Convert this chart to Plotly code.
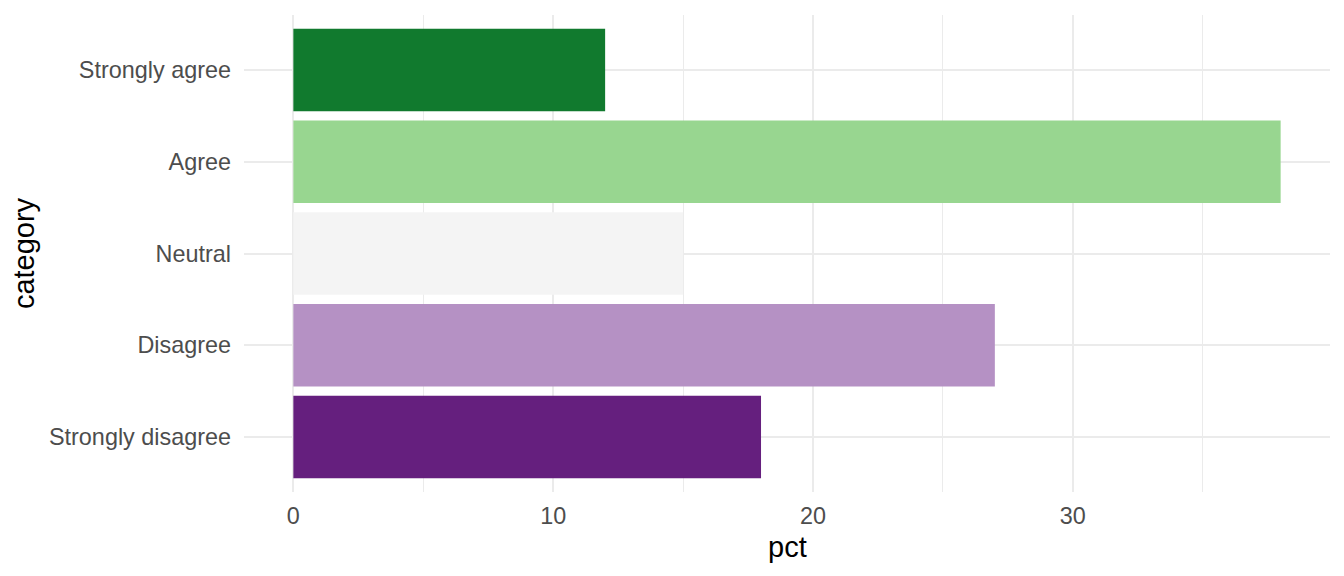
import plotly.graph_objects as go

# Data
categories = ["Strongly disagree", "Disagree", "Neutral", "Agree", "Strongly agree"]
pct = [18, 27, 15, 38, 12]
bar_colors = ["#651f7e", "#b591c4", "#f4f4f4", "#98d690", "#117a2e"]

fig = go.Figure()
fig.add_trace(go.Bar(
    x=pct,
    y=categories,
    orientation="h",
    width=0.9,
    marker=dict(color=bar_colors, line=dict(width=0)),
    showlegend=False,
))

# page body has an 8px margin, so margins are shifted to compensate
fig.update_layout(
    width=1344,
    height=576,
    plot_bgcolor="white",
    paper_bgcolor="white",
    margin=dict(l=236, r=22, t=7, b=92),
    font=dict(family="Liberation Sans, Arial, sans-serif"),
    bargap=0.1,
)

fig.update_xaxes(
    range=[-1.9, 39.9],
    dtick=10,
    tick0=0,
    showgrid=True,
    gridcolor="#ebebeb",
    gridwidth=2.4,
    minor=dict(dtick=5, tick0=0, showgrid=True, gridcolor="#ebebeb", gridwidth=1.2),
    zeroline=False,
    showline=False,
    ticks="",
    tickfont=dict(size=23.4, color="#4d4d4d"),
    ticklabelstandoff=8,
    automargin=False,
)

fig.update_yaxes(
    type="category",
    categoryorder="array",
    categoryarray=categories,
    range=[-0.6, 4.6],
    showgrid=True,
    gridcolor="#ebebeb",
    gridwidth=2.4,
    zeroline=False,
    showline=False,
    ticks="",
    tickfont=dict(size=23.4, color="#4d4d4d"),
    ticklabelstandoff=12,
    automargin=False,
    title=dict(text="category", font=dict(size=29, color="black")),
)

# x axis title placed by hand
fig.add_annotation(
    text="pct",
    xref="paper", yref="paper",
    x=0.5, y=0,
    xanchor="center", yanchor="middle",
    yshift=-55,
    showarrow=False,
    font=dict(size=29, color="black"),
)

fig.write_html("out.html")
